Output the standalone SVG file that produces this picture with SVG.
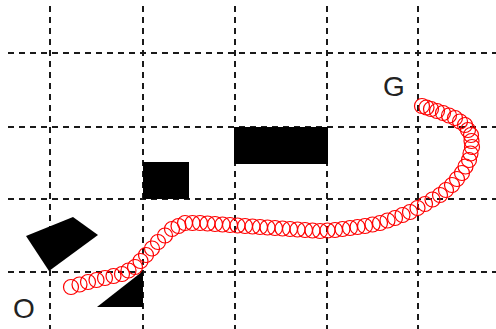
<svg xmlns="http://www.w3.org/2000/svg" width="496" height="329" viewBox="0 0 496 329">
<defs>
<style>
.grid line{stroke:#1a1a1a;stroke-width:2;stroke-dasharray:6,5}
.obs{fill:#000}
.trail circle{fill:none;stroke:#ff0000;stroke-width:1.2}
.lbl{font-family:"Liberation Sans",Arial,sans-serif;font-size:28px;fill:#222;text-anchor:middle}
</style>
</defs>
<rect width="496" height="329" fill="#fff"/>
<g id="grid" class="grid">
<line x1="50" y1="6" x2="50" y2="329"/>
<line x1="143" y1="6" x2="143" y2="329"/>
<line x1="235" y1="6" x2="235" y2="329"/>
<line x1="327" y1="6" x2="327" y2="329"/>
<line x1="418" y1="6" x2="418" y2="329"/>
<line x1="8" y1="53" x2="496" y2="53"/>
<line x1="8" y1="127" x2="496" y2="127"/>
<line x1="8" y1="199" x2="496" y2="199"/>
<line x1="8" y1="272" x2="496" y2="272"/>
</g>
<g id="obstacle-rect"><rect class="obs" x="234" y="127" width="94" height="37"/></g>
<g id="obstacle-square"><rect class="obs" x="143" y="162" width="46" height="37"/></g>
<g id="obstacle-quad"><polygon class="obs" points="26,236 73,217 98,235 49,271"/></g>
<g id="obstacle-triangle"><polygon class="obs" points="143,271 97,307 143,307"/></g>
<g id="trail" class="trail">
<circle cx="71" cy="287" r="7.5"/><circle cx="79.5" cy="284.5" r="7.5"/><circle cx="88" cy="282" r="7.5"/><circle cx="96.5" cy="280" r="7.5"/><circle cx="105" cy="278" r="7.5"/><circle cx="113.5" cy="276" r="7.5"/><circle cx="122" cy="274" r="7.5"/><circle cx="128.5" cy="270.5" r="7.5"/><circle cx="135" cy="267" r="7.5"/><circle cx="140.5" cy="261" r="7.5"/><circle cx="146" cy="255" r="7.5"/><circle cx="152" cy="248.5" r="7.5"/><circle cx="158" cy="242" r="7.5"/><circle cx="165" cy="235.5" r="7.5"/><circle cx="172" cy="229" r="7.5"/><circle cx="178.5" cy="226" r="7.5"/><circle cx="185" cy="223" r="7.5"/><circle cx="192.5" cy="223" r="7.5"/><circle cx="200" cy="223" r="7.5"/><circle cx="207.5" cy="223.5" r="7.5"/><circle cx="215" cy="224" r="7.5"/><circle cx="222.5" cy="224.5" r="7.5"/><circle cx="230" cy="225" r="7.5"/><circle cx="237.5" cy="225.5" r="7.5"/><circle cx="245" cy="226" r="7.5"/><circle cx="252.5" cy="226.5" r="7.5"/><circle cx="260" cy="227" r="7.5"/><circle cx="267.5" cy="227.5" r="7.5"/><circle cx="275" cy="228" r="7.5"/><circle cx="282.5" cy="228.5" r="7.5"/><circle cx="290" cy="229" r="7.5"/><circle cx="297.5" cy="229.5" r="7.5"/><circle cx="305" cy="230" r="7.5"/><circle cx="312.5" cy="230.5" r="7.5"/><circle cx="320" cy="231" r="7.5"/><circle cx="327.5" cy="230.5" r="7.5"/><circle cx="335" cy="230" r="7.5"/><circle cx="342.5" cy="229" r="7.5"/><circle cx="350" cy="228" r="7.5"/><circle cx="357.5" cy="227" r="7.5"/><circle cx="365" cy="226" r="7.5"/><circle cx="372.5" cy="224.5" r="7.5"/><circle cx="380" cy="223" r="7.5"/><circle cx="387.5" cy="220.5" r="7.5"/><circle cx="395" cy="218" r="7.5"/><circle cx="402.5" cy="215" r="7.5"/><circle cx="410" cy="212" r="7.5"/><circle cx="417.5" cy="208" r="7.5"/><circle cx="425" cy="204" r="7.5"/><circle cx="432.5" cy="199.5" r="7.5"/><circle cx="440" cy="195" r="7.5"/><circle cx="446" cy="190" r="7.5"/><circle cx="452" cy="185" r="7.5"/><circle cx="457" cy="179" r="7.5"/><circle cx="462" cy="173" r="7.5"/><circle cx="465.5" cy="166.5" r="7.5"/><circle cx="469" cy="160" r="7.5"/><circle cx="470.5" cy="153.5" r="7.5"/><circle cx="472" cy="147" r="7.5"/><circle cx="471.5" cy="141" r="7.5"/><circle cx="471" cy="135" r="7.5"/><circle cx="468" cy="130" r="7.5"/><circle cx="465" cy="125" r="7.5"/><circle cx="460" cy="121.5" r="7.5"/><circle cx="455" cy="118" r="7.5"/><circle cx="449" cy="115.5" r="7.5"/><circle cx="443" cy="113" r="7.5"/><circle cx="437" cy="111" r="7.5"/><circle cx="431" cy="109" r="7.5"/><circle cx="426.5" cy="107.5" r="7.5"/><circle cx="422" cy="106" r="7.5"/>
</g>
<g id="label-O"><text class="lbl" x="24" y="318">O</text></g>
<g id="label-G"><text class="lbl" x="394" y="96">G</text></g>
</svg>
